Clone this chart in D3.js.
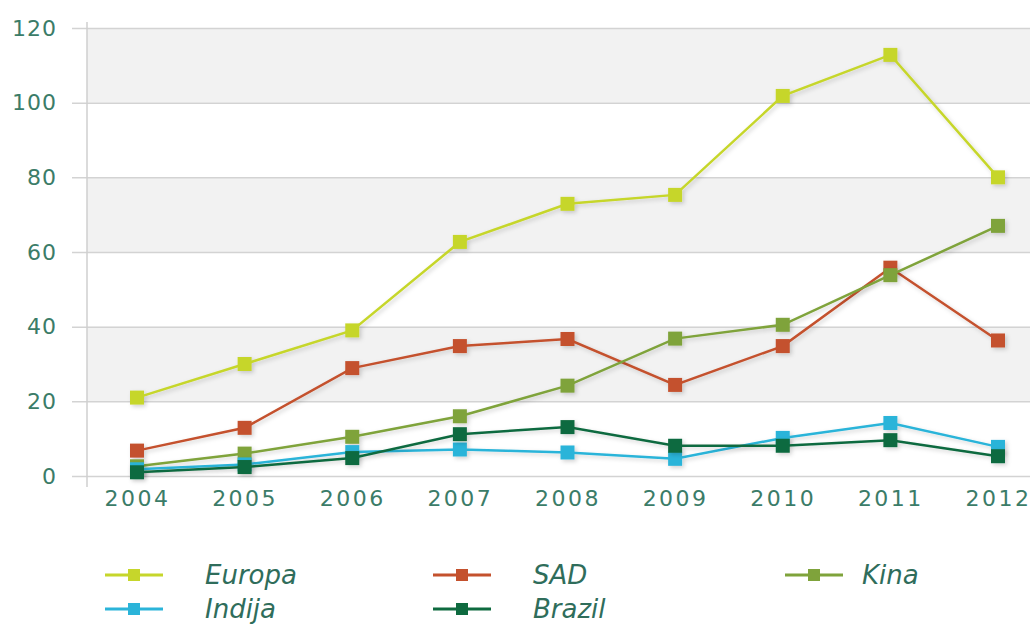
<!DOCTYPE html>
<html><head><meta charset="utf-8">
<script src="https://cdn.jsdelivr.net/npm/d3@7"></script>
<style>
html,body{margin:0;padding:0;background:#fff;}
svg{display:block;}
</style></head>
<body>
<svg id="chart" width="1030" height="624"></svg>
<script>
const years = ["2004","2005","2006","2007","2008","2009","2010","2011","2012"];
const europa = [21, 30, 39, 62.7, 72.9, 75.3, 101.8, 112.8, 80];
const sad    = [6.8, 12.9, 28.9, 34.8, 36.7, 24.4, 34.8, 55.8, 36.3];
const kina   = [2.6, 6.0, 10.5, 16.0, 24.2, 36.8, 40.5, 53.8, 67.0];
const indija = [1.8, 3.1, 6.4, 7.1, 6.3, 4.6, 10.2, 14.2, 7.8];
const brazil = [1.0, 2.4, 4.8, 11.2, 13.1, 8.1, 8.1, 9.6, 5.3];
const yTicks = [0, 20, 40, 60, 80, 100, 120];
const seriesNames = ["Europa", "SAD", "Kina", "Indija", "Brazil"];
const seriesValues = [europa, sad, kina, indija, brazil];
const colors = ["#c6d62b", "#c4512d", "#7fa33b", "#2bb4d9", "#0e6a3f"];

const svg = d3.select("#chart");
const x = d3.scalePoint().domain(years).range([137, 998]);
const y = d3.scaleLinear().domain([0, 120]).range([476, 28]);

const defs = svg.append("defs");
const f = defs.append("filter").attr("id","sh").attr("x","-20%").attr("y","-20%").attr("width","140%").attr("height","140%");
f.append("feDropShadow").attr("dx",2).attr("dy",2).attr("stdDeviation",2).attr("flood-color","#000").attr("flood-opacity",0.18);

// alternating bands
[[100,120],[60,80],[20,40]].forEach(([v0, v1]) => {
  svg.append("rect").attr("x", 87).attr("y", y(v1)).attr("width", 1030 - 87)
    .attr("height", y(v0) - y(v1)).attr("fill", "#f2f2f2");
});
// gridlines + y labels
const gAxis = svg.append("g").attr("transform","translate(87,0)")
  .call(d3.axisLeft(y).tickValues(yTicks).tickSize(-(1030-87)).tickPadding(30).tickFormat(d3.format("d")));
gAxis.select(".domain").remove();
gAxis.selectAll(".tick line").attr("stroke","#d3d3d3").attr("stroke-width",1.5).attr("x1",-15);
gAxis.selectAll(".tick text").attr("fill","#3b7c68").style("font-family","DejaVu Sans").style("font-size","22px").style("letter-spacing","1px");
// vertical axis line
svg.append("line").attr("x1",87).attr("x2",87).attr("y1",22).attr("y2",487).attr("stroke","#cfcfcf").attr("stroke-width",1.5);

// x axis labels
const gx = svg.append("g").attr("transform","translate(0,476)")
  .call(d3.axisBottom(x).tickSize(0).tickPadding(14));
gx.select(".domain").remove();
gx.selectAll(".tick text").attr("fill","#3b7c68").style("font-family","DejaVu Sans").style("font-size","22px").style("letter-spacing","2.5px");

// lines
const line = d3.line().x((d,i) => x(years[i])).y(d => y(d));
seriesValues.forEach((vals, k) => {
  const g = svg.append("g").attr("filter","url(#sh)");
  g.append("path").attr("d", line(vals)).attr("fill","none").attr("stroke", colors[k]).attr("stroke-width", 2.5);
  g.selectAll("rect").data(vals).join("rect")
    .attr("x", (d,i) => x(years[i]) - 7).attr("y", d => y(d) - 7)
    .attr("width", 14).attr("height", 14).attr("fill", colors[k]);
});

// legend
const legendPos = [[105,575],[433,575],[785,575],[105,609],[433,609]];
const textX = [205, 533, 862, 205, 533];
seriesNames.forEach((name, k) => {
  const [lx, ly] = legendPos[k];
  const g = svg.append("g");
  g.append("line").attr("x1", lx).attr("x2", lx + 58).attr("y1", ly).attr("y2", ly)
    .attr("stroke", colors[k]).attr("stroke-width", 3);
  g.append("rect").attr("x", lx + 29 - 6).attr("y", ly - 6).attr("width", 12).attr("height", 12).attr("fill", colors[k]);
  g.append("text").attr("x", textX[k]).attr("y", ly + 9).text(name)
    .attr("fill","#2f6d5b").style("font-family","DejaVu Sans").style("font-style","italic").style("font-size","26px");
});
</script>
</body></html>
